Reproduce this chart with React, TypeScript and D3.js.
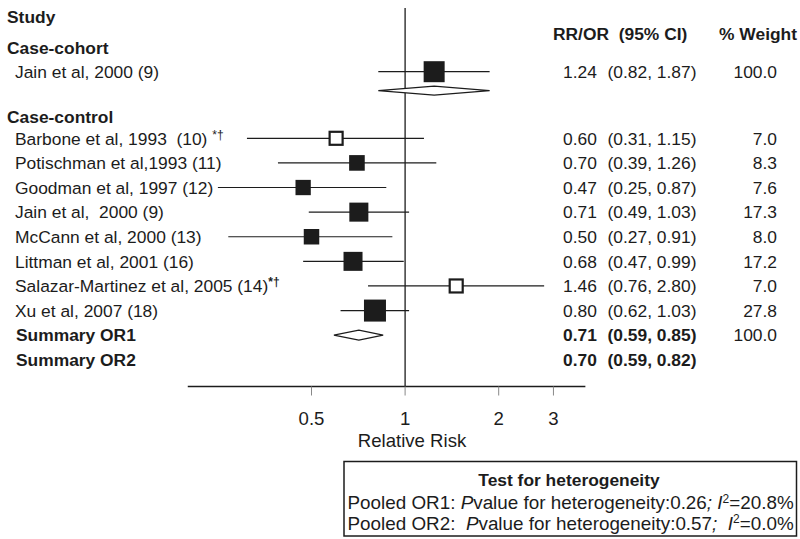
import React from "react";
import * as d3 from "d3";

const studies = [
  "Barbone et al, 1993  (10) ",
  "Potischman et al,1993 (11)",
  "Goodman et al, 1997 (12)",
  "Jain et al,  2000 (9)",
  "McCann et al, 2000 (13)",
  "Littman et al, 2001 (16)",
  "Salazar-Martinez et al, 2005 (14)",
  "Xu et al, 2007 (18)",
];
const notes = ["*†", "", "", "", "", "", "*†", ""];
const rr = [0.6, 0.7, 0.47, 0.71, 0.5, 0.68, 1.46, 0.8];
const lo = [0.31, 0.39, 0.25, 0.49, 0.27, 0.47, 0.76, 0.62];
const hi = [1.15, 1.26, 0.87, 1.03, 0.91, 0.99, 2.8, 1.03];
const weights = [7.0, 8.3, 7.6, 17.3, 8.0, 17.2, 7.0, 27.8];
const openMarker = [true, false, false, false, false, false, true, false];

const cohortStudy = "Jain et al, 2000 (9)";
const cohortRR = 1.24;
const cohortLo = 0.82;
const cohortHi = 1.87;
const cohortWeight = 100.0;

const summaryLabels = ["Summary OR1", "Summary OR2"];
const summaryRR = [0.71, 0.7];
const summaryLo = [0.59, 0.59];
const summaryHi = [0.85, 0.82];
const summaryWeight: (number | null)[] = [100.0, null];
const summaryDiamond = [true, false];

const tickValues = [0.5, 1, 2, 3];
const tickLabels = ["0.5", "1", "2", "3"];

const FONT = "'Liberation Sans', Arial, Helvetica, sans-serif";
const FS = 17.4;
const FS_BIG = 18.6;
const FS_BOX = 18.85;
const INK = "#1c1c1c";

export default function App() {
  const x = d3.scaleLog().base(2).domain([0.5, 2]).range([311.5, 498.7]);
  const yRow = d3.scaleLinear().domain([0, 9]).range([138.3, 359.8]);
  const size = d3.scalePow().exponent(0.5).domain([7, 27.8]).range([15, 22]).clamp(true);
  const f2 = d3.format(".2f");
  const f1 = d3.format(".1f");

  const axisY = 386.5;
  const cohortY = 71.7;
  const cohortDiamondY = 90.7;
  const estX = 563;
  const ciX = 607.5;
  const wX = 777;
  const base = 6.2;
  const baseBig = 6.7;

  const diamond = (l: number, m: number, h: number, y: number, hh: number) =>
    d3.line()([
      [x(l), y],
      [x(m), y - hh],
      [x(h), y],
      [x(m), y + hh],
      [x(l), y],
    ]) as string;

  const ciText = (l: number, h: number) => `(${f2(l)}, ${f2(h)})`;

  return (
    <svg
      width={800}
      height={539}
      style={{ position: "absolute", left: 0, top: 0, background: "#fff" }}
      fontFamily={FONT}
      fontSize={FS}
      fill={INK}
    >
      <rect x={0} y={0} width={800} height={539} fill="#fff" />
      {/* headers */}
      <text x={7} y={16.7 + base} fontWeight="bold">Study</text>
      <text x={553} y={33.3 + base} fontWeight="bold" style={{ whiteSpace: "pre" }}>
        {"RR/OR  (95% CI)"}
      </text>
      <text x={797} y={33.3 + base} fontWeight="bold" textAnchor="end">% Weight</text>
      <text x={7} y={48 + base} fontWeight="bold">Case-cohort</text>
      <text x={7} y={116.7 + base} fontWeight="bold">Case-control</text>

      {/* reference line */}
      <line x1={x(1)} x2={x(1)} y1={8} y2={axisY} stroke={INK} strokeWidth={1.3} />

      {/* cohort */}
      <text x={15} y={cohortY + base}>{cohortStudy}</text>
      <line x1={x(cohortLo)} x2={x(cohortHi)} y1={cohortY} y2={cohortY} stroke={INK} strokeWidth={1.2} />
      <rect
        x={x(cohortRR) - 10.5}
        y={cohortY - 10.5}
        width={21}
        height={21}
        fill={INK}
      />
      <path d={diamond(cohortLo, cohortRR, cohortHi, cohortDiamondY, 4.5)} fill="#fff" stroke={INK} strokeWidth={1.2} />
      <text x={estX} y={cohortY + base}>{f2(cohortRR)}</text>
      <text x={ciX} y={cohortY + base}>{ciText(cohortLo, cohortHi)}</text>
      <text x={wX} y={cohortY + base} textAnchor="end">{f1(cohortWeight)}</text>

      {/* case-control studies */}
      {studies.map((s, i) => {
        const y = yRow(i);
        const sz = size(weights[i]);
        const op = openMarker[i];
        return (
          <g key={s}>
            <text x={15} y={y + base} style={{ whiteSpace: "pre" }}>
              {s}
              {notes[i] ? (
                <tspan fontSize={12} dy={-6} fontWeight={i === 6 ? "bold" : "normal"}>{notes[i]}</tspan>
              ) : null}
            </text>
            <line x1={x(lo[i])} x2={x(hi[i])} y1={y} y2={y} stroke={INK} strokeWidth={1.2} />
            {op ? (
              <rect
                x={x(rr[i]) - sz / 2 + 1}
                y={y - sz / 2 + 1}
                width={sz - 2}
                height={sz - 2}
                fill="#fff"
                stroke={INK}
                strokeWidth={2.2}
              />
            ) : (
              <rect x={x(rr[i]) - sz / 2} y={y - sz / 2} width={sz} height={sz} fill={INK} />
            )}
            <text x={estX} y={y + base}>{f2(rr[i])}</text>
            <text x={ciX} y={y + base}>{ciText(lo[i], hi[i])}</text>
            <text x={wX} y={y + base} textAnchor="end">{f1(weights[i])}</text>
          </g>
        );
      })}

      {/* summaries */}
      {summaryLabels.map((s, j) => {
        const y = yRow(studies.length + j);
        const w = summaryWeight[j];
        return (
          <g key={s}>
            <text x={16} y={y + base} fontWeight="bold">{s}</text>
            {summaryDiamond[j] ? (
              <path d={diamond(summaryLo[j], summaryRR[j], summaryHi[j], y, 5)} fill="#fff" stroke={INK} strokeWidth={1.2} />
            ) : null}
            <text x={estX} y={y + base} fontWeight="bold">{f2(summaryRR[j])}</text>
            <text x={ciX} y={y + base} fontWeight="bold">{ciText(summaryLo[j], summaryHi[j])}</text>
            {w !== null ? (
              <text x={wX} y={y + base} textAnchor="end">{f1(w)}</text>
            ) : null}
          </g>
        );
      })}

      {/* axis */}
      <line x1={x(0.2)} x2={x(3.8)} y1={axisY} y2={axisY} stroke={INK} strokeWidth={1.6} />
      {tickValues.map((t, i) => (
        <g key={t}>
          <line x1={x(t)} x2={x(t)} y1={axisY} y2={axisY + 9} stroke="#888" strokeWidth={1} />
          <text x={x(t)} y={418 + baseBig} textAnchor="middle" fontSize={FS_BIG}>{tickLabels[i]}</text>
        </g>
      ))}
      <text x={412} y={440 + baseBig} textAnchor="middle" fontSize={FS_BIG}>Relative Risk</text>

      {/* heterogeneity box */}
      <rect x={344} y={461.5} width={452.5} height={74.5} fill="#fff" stroke={INK} strokeWidth={1.5} />
      <text x={569} y={480 + base} textAnchor="middle" fontWeight="bold">Test for heterogeneity</text>
      <text x={347.5} y={502.5 + baseBig} fontSize={FS_BOX} style={{ whiteSpace: "pre" }}>
        {"Pooled OR1: "}
        <tspan fontStyle="italic">P</tspan>
        {"value for heterogeneity:0.26"}
        <tspan fontStyle="italic">{"; I"}</tspan>
        <tspan fontSize={12} dy={-6.5}>2</tspan>
        <tspan dy={6.5}>=20.8%</tspan>
      </text>
      <text x={347.5} y={523 + baseBig} fontSize={FS_BOX} style={{ whiteSpace: "pre" }}>
        {"Pooled OR2:  "}
        <tspan fontStyle="italic">P</tspan>
        {"value for heterogeneity:0.57"}
        <tspan fontStyle="italic">{";  I"}</tspan>
        <tspan fontSize={12} dy={-6.5}>2</tspan>
        <tspan dy={6.5}>=0.0%</tspan>
      </text>
    </svg>
  );
}
